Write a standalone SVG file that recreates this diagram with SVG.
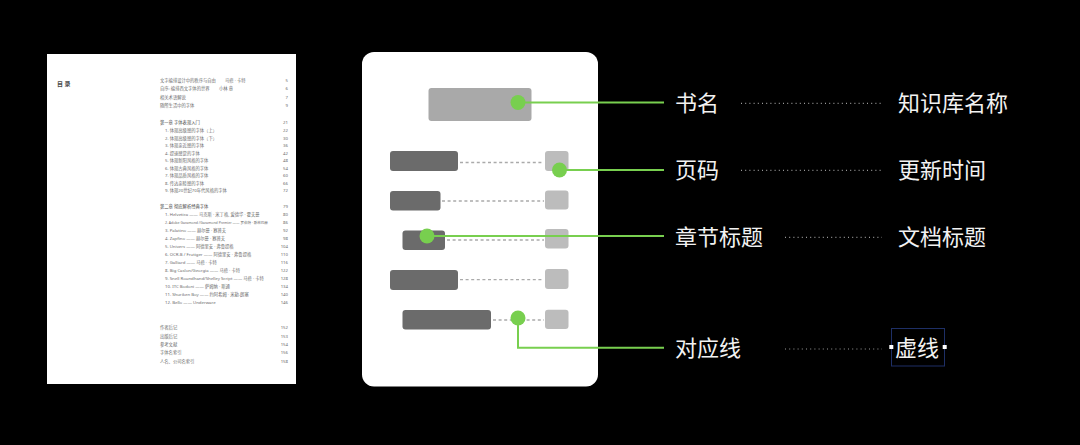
<svg xmlns="http://www.w3.org/2000/svg" width="1080" height="445" viewBox="0 0 1080 445">
<style>
.toc{font-family:"Noto Sans","Noto Sans CJK SC",sans-serif;font-size:4.3px;fill:#6a6a6a}
.toch{fill:#4a4a4a}
.num{text-anchor:end}
.sm{font-size:3.5px}
.lbl{font-family:"Noto Sans CJK SC","Noto Sans",sans-serif;font-size:22px;fill:#f2f2f2}
.dark{fill:#6b6b6b}
.light{fill:#bcbcbc}
.dash{stroke:#aaaaaa;stroke-width:1.3;stroke-dasharray:3 2.6;fill:none}
.dot{stroke:#9a9a9a;stroke-width:1.2;stroke-dasharray:1 3.2;fill:none}
.gl{stroke:#78cf4f;stroke-width:2;fill:none}
.gd{fill:#78cf4f}
</style>
<rect width="1080" height="445" fill="#000"/>

<g id="toc-page">
<rect x="47" y="54" width="249" height="330" fill="#fff"/>
<text x="57" y="86" class="toc toch" style="font-size:6px;font-weight:bold">目  录</text>
<g class="toc">
<text x="160" y="82.3">文字编排设计中的秩序与自由</text><text x="225" y="82.3">马修 · 卡特</text><text x="288" y="82.3" class="num">5</text>
<text x="160" y="90.3">自序: 编排西文字体的世界</text><text x="219" y="90.3">小林 章</text><text x="288" y="90.3" class="num">6</text>
<text x="160" y="98.6">相关术语解说</text><text x="288" y="98.6" class="num">7</text>
<text x="160" y="106.9">随所生活中的字体</text><text x="288" y="106.9" class="num">9</text>
<text x="160" y="124.2" class="toch">第一章  字体表现入门</text><text x="288" y="124.2" class="num">21</text>
<text x="165" y="132.3">1. 体现高级感的字体（上）</text><text x="288" y="132.3" class="num">22</text>
<text x="165" y="139.7">2. 体现高级感的字体（下）</text><text x="288" y="139.7" class="num">30</text>
<text x="165" y="147.2">3. 体现亲近感的字体</text><text x="288" y="147.2" class="num">36</text>
<text x="165" y="154.8">4. 提速感觉的字体</text><text x="288" y="154.8" class="num">42</text>
<text x="165" y="162.3">5. 体现新阳风格的字体</text><text x="288" y="162.3" class="num">48</text>
<text x="165" y="169.8">6. 体现古典风格的字体</text><text x="288" y="169.8" class="num">54</text>
<text x="165" y="177.3">7. 体现品质风格的字体</text><text x="288" y="177.3" class="num">60</text>
<text x="165" y="184.6">8. 传达亲睦感的字体</text><text x="288" y="184.6" class="num">66</text>
<text x="165" y="191.9">9. 体现20世纪70年代风格的字体</text><text x="288" y="191.9" class="num">72</text>
<text x="160" y="208.3" class="toch">第二章  彻底解析经典字体</text><text x="288" y="208.3" class="num">79</text>
<text x="165" y="216.3">1. Helvetica —— 马克斯 · 米丁格, 爱德华 · 霍夫曼</text><text x="288" y="216.3" class="num">80</text>
<text x="165" y="223.9" class="sm">2. Adobe Garamond /Garamond Premier —— 罗伯特 · 斯林巴赫</text><text x="288" y="223.9" class="num">86</text>
<text x="165" y="231.9">3. Palatino —— 赫尔曼 · 察普夫</text><text x="288" y="231.9" class="num">92</text>
<text x="165" y="239.9">4. Zapfino —— 赫尔曼 · 察普夫</text><text x="288" y="239.9" class="num">98</text>
<text x="165" y="248.2">5. Univers —— 阿德里安 · 弗鲁提格</text><text x="288" y="248.2" class="num">104</text>
<text x="165" y="255.9">6. OCR-B / Frutiger —— 阿德里安 · 弗鲁提格</text><text x="288" y="255.9" class="num">110</text>
<text x="165" y="263.9">7. Galliard —— 马修 · 卡特</text><text x="288" y="263.9" class="num">116</text>
<text x="165" y="271.9">8. Big Caslon/Georgia —— 马修 · 卡特</text><text x="288" y="271.9" class="num">122</text>
<text x="165" y="279.6">9. Snell Roundhand/Shelley Script —— 马修 · 卡特</text><text x="288" y="279.6" class="num">128</text>
<text x="165" y="287.9">10. ITC Bodoni —— 萨姆纳 · 斯通</text><text x="288" y="287.9" class="num">134</text>
<text x="165" y="295.9">11. Shuriken Boy —— 约阿希姆 · 米勒-朗塞</text><text x="288" y="295.9" class="num">140</text>
<text x="165" y="303.9">12. Bello —— Underware</text><text x="288" y="303.9" class="num">146</text>
<text x="160" y="329.3">作者后记</text><text x="288" y="329.3" class="num">152</text>
<text x="160" y="337.6">出版后记</text><text x="288" y="337.6" class="num">153</text>
<text x="160" y="345.9">参考文献</text><text x="288" y="345.9" class="num">154</text>
<text x="160" y="354.3">字体名索引</text><text x="288" y="354.3" class="num">156</text>
<text x="160" y="362.6">人名、公司名索引</text><text x="288" y="362.6" class="num">158</text>
</g>
</g>

<g id="schematic">
<rect x="362" y="52" width="236" height="334.5" rx="12" fill="#fff"/>
<rect id="title-box" x="428.5" y="88" width="103" height="33" rx="3" fill="#a9a9a9"/>
<g id="row1"><rect x="390" y="151" width="68" height="20" rx="3" class="dark"/><path d="M460 162.5H544" class="dash"/><rect x="545" y="151" width="23.5" height="20" rx="3" class="light"/></g>
<g id="row2"><rect x="390" y="191" width="50.5" height="19.5" rx="3" class="dark"/><path d="M442 201H544" class="dash"/><rect x="545" y="190.5" width="23.5" height="19" rx="3" class="light"/></g>
<g id="row3"><rect x="402.5" y="230.5" width="42.5" height="19.5" rx="3" class="dark"/><path d="M447 240H544" class="dash"/><rect x="545" y="229" width="23.5" height="19.5" rx="3" class="light"/></g>
<g id="row4"><rect x="390" y="270" width="68" height="20" rx="3" class="dark"/><path d="M460 279.7H544" class="dash"/><rect x="545" y="269" width="23.5" height="20" rx="3" class="light"/></g>
<g id="row5"><rect x="402.5" y="310" width="88.5" height="19.5" rx="3" class="dark"/><path d="M493 320H544" class="dash"/><rect x="545" y="309.7" width="23.5" height="19.3" rx="3" class="light"/></g>
</g>

<g id="connectors">
<path d="M518 102.5H664" class="gl"/>
<path d="M559.5 170H664" class="gl"/>
<path d="M427 236H664" class="gl"/>
<path d="M518 318V347.7H664" class="gl"/>
<circle cx="518" cy="102.5" r="7.5" class="gd"/>
<circle cx="559.5" cy="170" r="7.5" class="gd"/>
<circle cx="427" cy="236" r="7.5" class="gd"/>
<circle cx="518" cy="318" r="7.5" class="gd"/>
<path d="M741 103.3H882" class="dot"/>
<path d="M741 170.3H882" class="dot"/>
<path d="M785 237.3H882" class="dot"/>
<path d="M785 349H882" class="dot"/>
</g>

<g id="label-shuming"><text x="675" y="110.5" class="lbl">书名</text></g>
<g id="label-yema"><text x="675" y="178" class="lbl">页码</text></g>
<g id="label-zhangjie"><text x="675" y="244.7" class="lbl">章节标题</text></g>
<g id="label-duiying"><text x="675" y="356" class="lbl">对应线</text></g>
<g id="label-zhishiku"><text x="898" y="110.5" class="lbl">知识库名称</text></g>
<g id="label-gengxin"><text x="898" y="178" class="lbl">更新时间</text></g>
<g id="label-wendang"><text x="898" y="244.7" class="lbl">文档标题</text></g>
<g id="label-xuxian">
<rect x="891.5" y="328.5" width="53" height="37.5" fill="none" stroke="#1e2f66" stroke-width="1"/>
<text x="895" y="356" class="lbl">虚线</text>
<rect x="889.3" y="345" width="4" height="4" fill="#fff"/>
<rect x="942.7" y="345" width="4" height="4" fill="#fff"/>
</g>
</svg>
